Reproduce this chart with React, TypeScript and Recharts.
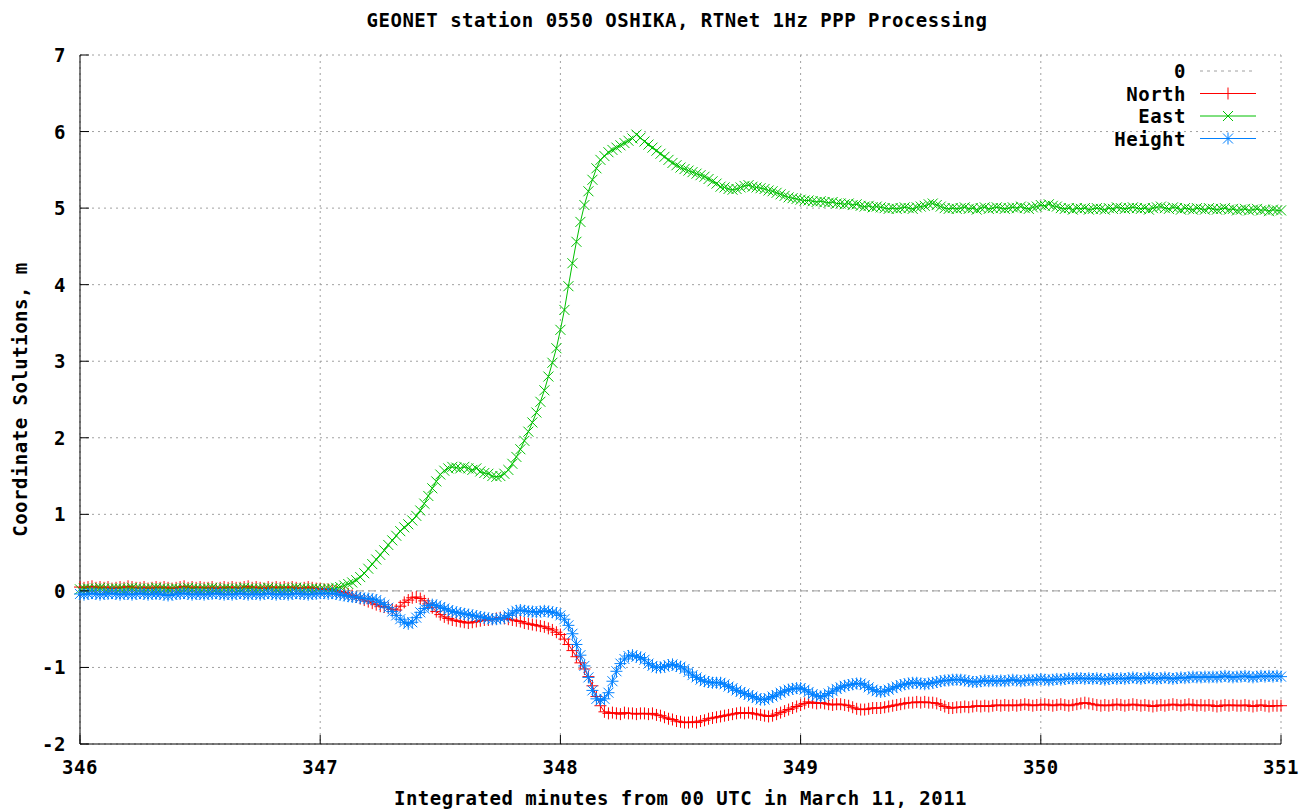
import { CartesianGrid, Legend, Line, LineChart, ReferenceLine, XAxis, YAxis } from "recharts";

// 1 Hz PPP solutions, metres, starting at 346:00 (minutes from 00 UTC)
const startMinute = 346;
const samplesPerMinute = 60;

const north = [
  0.05, 0.04, 0.05, 0.06, 0.04, 0.05, 0.04, 0.05, 0.03, 0.04,
  0.05, 0.04, 0.06, 0.05, 0.04, 0.04, 0.05, 0.03, 0.04, 0.05,
  0.04, 0.05, 0.04, 0.03, 0.04, 0.05, 0.06, 0.04, 0.05, 0.04,
  0.05, 0.04, 0.04, 0.05, 0.03, 0.04, 0.05, 0.04, 0.05, 0.04,
  0.04, 0.05, 0.06, 0.04, 0.05, 0.04, 0.03, 0.05, 0.04, 0.05,
  0.04, 0.05, 0.04, 0.05, 0.04, 0.03, 0.04, 0.05, 0.04, 0.03,
  0.03, 0.02, 0.02, 0.01, 0.0, -0.01, -0.02, -0.04, -0.06, -0.08,
  -0.1, -0.12, -0.14, -0.16, -0.18, -0.2, -0.21, -0.22, -0.24, -0.25,
  -0.2, -0.15, -0.12, -0.09, -0.08, -0.1, -0.13, -0.17, -0.22, -0.27,
  -0.31, -0.34, -0.36, -0.38, -0.39, -0.4, -0.41, -0.42, -0.41, -0.4,
  -0.39, -0.38, -0.38, -0.37, -0.36, -0.35, -0.36, -0.37, -0.38, -0.39,
  -0.4, -0.42, -0.43, -0.44, -0.45, -0.46, -0.47, -0.49, -0.51, -0.54,
  -0.57, -0.63, -0.7, -0.78, -0.86, -0.94, -1.02, -1.12, -1.24, -1.38,
  -1.5, -1.58, -1.6, -1.59, -1.6, -1.61, -1.59, -1.6, -1.6, -1.61,
  -1.6, -1.6, -1.61, -1.6, -1.62, -1.63, -1.65, -1.67, -1.68, -1.7,
  -1.71, -1.72, -1.72, -1.71, -1.72, -1.7, -1.69, -1.67, -1.66, -1.65,
  -1.64, -1.63, -1.62, -1.61, -1.6, -1.59, -1.6, -1.59, -1.6, -1.61,
  -1.62, -1.63, -1.64, -1.63, -1.61, -1.59, -1.57, -1.55, -1.53, -1.51,
  -1.49, -1.47, -1.45, -1.46, -1.47, -1.46, -1.47, -1.48, -1.49, -1.48,
  -1.48, -1.49, -1.5, -1.52, -1.54, -1.55, -1.55, -1.54, -1.53, -1.53,
  -1.53, -1.52, -1.51, -1.5, -1.49, -1.48, -1.47, -1.46, -1.46, -1.45,
  -1.46, -1.45, -1.46, -1.46, -1.47, -1.49, -1.51, -1.53, -1.53, -1.52,
  -1.52, -1.51, -1.52, -1.51, -1.5, -1.51, -1.5, -1.51, -1.5, -1.49,
  -1.5, -1.49, -1.5, -1.49, -1.5, -1.49, -1.48, -1.49, -1.5, -1.49,
  -1.49, -1.48, -1.49, -1.5, -1.49, -1.48, -1.49, -1.5, -1.49, -1.48,
  -1.47, -1.46, -1.47, -1.48, -1.49, -1.5, -1.49, -1.5, -1.49, -1.48,
  -1.49, -1.5, -1.49, -1.48, -1.49, -1.5, -1.49, -1.5, -1.51, -1.5,
  -1.49, -1.5, -1.49, -1.48, -1.49, -1.5, -1.49, -1.48, -1.49, -1.5,
  -1.49, -1.5, -1.49, -1.5, -1.51, -1.5, -1.49, -1.5, -1.49, -1.5,
  -1.5, -1.49, -1.5, -1.51, -1.5, -1.49, -1.5, -1.51, -1.5, -1.5,
  -1.5,
];

const east = [
  0.02, 0.03, 0.03, 0.02, 0.03, 0.04, 0.03, 0.02, 0.03, 0.03,
  0.03, 0.02, 0.03, 0.04, 0.03, 0.03, 0.02, 0.03, 0.03, 0.04,
  0.03, 0.03, 0.02, 0.03, 0.03, 0.02, 0.03, 0.04, 0.03, 0.03,
  0.02, 0.03, 0.03, 0.04, 0.03, 0.02, 0.03, 0.03, 0.02, 0.03,
  0.03, 0.04, 0.03, 0.03, 0.02, 0.03, 0.03, 0.04, 0.03, 0.02,
  0.03, 0.03, 0.02, 0.03, 0.04, 0.03, 0.03, 0.02, 0.03, 0.03,
  0.02, 0.02, 0.03, 0.03, 0.04, 0.05, 0.07, 0.09, 0.11, 0.14,
  0.18, 0.23, 0.29, 0.35, 0.41, 0.47, 0.53, 0.6, 0.66, 0.72,
  0.78, 0.83, 0.87, 0.92, 0.98, 1.05, 1.14, 1.24, 1.34, 1.43,
  1.52, 1.57, 1.6, 1.62, 1.61, 1.6, 1.62, 1.6, 1.58, 1.6,
  1.56, 1.54, 1.53, 1.5, 1.49, 1.5, 1.53, 1.58, 1.66, 1.75,
  1.85, 1.96, 2.08, 2.2, 2.33, 2.47, 2.62, 2.8, 2.98, 3.17,
  3.41, 3.67, 3.98, 4.28, 4.56, 4.82, 5.04, 5.22, 5.37, 5.52,
  5.63, 5.68, 5.73, 5.76, 5.79, 5.82, 5.85, 5.88, 5.91, 5.96,
  5.92, 5.87, 5.83, 5.79, 5.75, 5.71, 5.67, 5.63, 5.59, 5.56,
  5.53, 5.51, 5.49, 5.47, 5.45, 5.43, 5.41, 5.38, 5.35, 5.32,
  5.28, 5.27, 5.25, 5.24, 5.25, 5.27, 5.29, 5.3, 5.28, 5.27,
  5.26, 5.25, 5.23, 5.22, 5.2, 5.18, 5.16, 5.14, 5.13, 5.12,
  5.11, 5.1, 5.1, 5.09, 5.08, 5.09, 5.08, 5.07, 5.08, 5.06,
  5.06, 5.05, 5.06, 5.04, 5.05, 5.03, 5.02, 5.03, 5.01, 5.02,
  5.01, 5.0, 4.99, 5.0, 4.99, 5.0, 5.01, 5.0, 4.99, 5.01,
  5.02, 5.03, 5.05, 5.06, 5.04, 5.02, 5.0, 4.99, 5.0, 4.99,
  5.0, 5.01, 4.99, 5.0, 4.98, 5.0, 5.01, 4.99, 5.0, 5.01,
  5.0, 4.99, 5.0, 5.01, 5.0, 5.02, 5.0, 4.99, 5.01, 5.02,
  5.04, 5.03, 5.05, 5.03, 5.02, 5.0, 4.99, 5.0, 4.98, 5.0,
  4.99, 5.0, 4.98, 4.99, 5.0, 4.99, 4.98, 5.0, 4.99, 5.01,
  5.0, 4.99, 5.0, 5.01, 5.0, 4.99, 5.0, 4.98, 5.0, 5.01,
  5.02, 5.0, 4.99, 5.01, 5.0, 4.98, 5.0, 4.99, 4.98, 5.0,
  4.99, 4.98, 5.0, 4.99, 4.98, 4.99, 5.0, 4.98, 4.99, 4.97,
  4.98, 4.99, 4.97, 4.98, 4.99, 4.97, 4.98, 4.96, 4.98, 4.97,
  4.97,
];

const height = [
  -0.04, -0.05, -0.04, -0.03, -0.04, -0.05, -0.04, -0.04, -0.03, -0.04,
  -0.05, -0.04, -0.04, -0.05, -0.04, -0.03, -0.04, -0.05, -0.04, -0.04,
  -0.04, -0.05, -0.06, -0.05, -0.04, -0.04, -0.03, -0.04, -0.05, -0.04,
  -0.04, -0.05, -0.04, -0.04, -0.03, -0.04, -0.05, -0.04, -0.05, -0.04,
  -0.03, -0.04, -0.05, -0.04, -0.04, -0.05, -0.04, -0.03, -0.04, -0.05,
  -0.04, -0.04, -0.05, -0.04, -0.03, -0.04, -0.04, -0.05, -0.04, -0.04,
  -0.03, -0.03, -0.04, -0.03, -0.04, -0.05, -0.06, -0.07, -0.08, -0.08,
  -0.09, -0.1, -0.1, -0.11, -0.12, -0.15, -0.18, -0.22, -0.27, -0.32,
  -0.37, -0.41, -0.43, -0.41, -0.35, -0.28, -0.23, -0.19, -0.18, -0.19,
  -0.21, -0.23, -0.25, -0.27, -0.28, -0.29, -0.3, -0.31, -0.32, -0.33,
  -0.34, -0.35, -0.36, -0.37, -0.37, -0.36, -0.35, -0.32, -0.29, -0.26,
  -0.25, -0.26, -0.27, -0.27, -0.28, -0.27, -0.26, -0.27, -0.28, -0.29,
  -0.32, -0.37, -0.45, -0.56, -0.7, -0.84, -0.98, -1.13, -1.3, -1.41,
  -1.43, -1.41, -1.33, -1.18, -1.05, -0.95, -0.89, -0.85, -0.84, -0.86,
  -0.87, -0.9, -0.95, -0.98, -1.0, -1.0, -0.99, -0.97, -0.96, -0.98,
  -0.99, -1.02, -1.06, -1.1, -1.13, -1.16, -1.18, -1.19, -1.2, -1.2,
  -1.2, -1.22, -1.25, -1.27, -1.3, -1.32, -1.34, -1.36, -1.38, -1.4,
  -1.42, -1.42, -1.4, -1.38, -1.36, -1.33, -1.31, -1.29, -1.28, -1.27,
  -1.27, -1.29, -1.32, -1.35, -1.37, -1.38, -1.37, -1.34, -1.31, -1.28,
  -1.26, -1.24, -1.23, -1.22, -1.21, -1.21, -1.23, -1.26, -1.29, -1.31,
  -1.32, -1.31, -1.29, -1.27, -1.25, -1.23, -1.22, -1.21, -1.2, -1.2,
  -1.21, -1.22, -1.21, -1.2, -1.19, -1.18, -1.17, -1.17, -1.16, -1.16,
  -1.16, -1.17, -1.18, -1.19, -1.19, -1.18, -1.17, -1.18, -1.17, -1.18,
  -1.17, -1.18, -1.17, -1.16, -1.17, -1.18, -1.17, -1.16, -1.17, -1.16,
  -1.15, -1.16, -1.17, -1.16, -1.15, -1.16, -1.15, -1.14, -1.15, -1.14,
  -1.14, -1.15, -1.14, -1.15, -1.14, -1.15, -1.16, -1.15, -1.14, -1.15,
  -1.14, -1.15, -1.14, -1.13, -1.14, -1.15, -1.14, -1.13, -1.14, -1.15,
  -1.14, -1.13, -1.14, -1.15, -1.14, -1.13, -1.14, -1.13, -1.12, -1.13,
  -1.13, -1.12, -1.13, -1.12, -1.13, -1.12, -1.11, -1.12, -1.13, -1.12,
  -1.12, -1.11, -1.12, -1.13, -1.12, -1.11, -1.12, -1.11, -1.12, -1.11,
  -1.12,
];

const xTicks = [346, 347, 348, 349, 350, 351];
const yTicks = [-2, -1, 0, 1, 2, 3, 4, 5, 6, 7];

const title = "GEONET station 0550 OSHIKA, RTNet 1Hz PPP Processing";
const xLabel = "Integrated minutes from 00 UTC in March 11, 2011";
const yLabel = "Coordinate Solutions, m";

const RED = "#ff0000";
const GREEN = "#00c000";
const BLUE = "#0080ff";
const GRID = "#a0a0a0";

const legendItems = [
  { label: "0", color: GRID, mark: "none" },
  { label: "North", color: RED, mark: "plus" },
  { label: "East", color: GREEN, mark: "cross" },
  { label: "Height", color: BLUE, mark: "star" },
];

const rows = north.map((n, i) => ({
  t: startMinute + i / samplesPerMinute,
  north: n,
  east: east[i],
  height: height[i],
}));

const font = {
  fontFamily: '"DejaVu Sans Mono", monospace',
  fontWeight: 700,
  fontSize: 19,
  letterSpacing: 0.5,
  fill: "#000",
};

function Mark({ cx, cy, color, kind }: { cx: number; cy: number; color: string; kind: string }) {
  const p = 6;
  const c = 5;
  return (
    <g stroke={color} strokeWidth={1} fill="none">
      {(kind === "plus" || kind === "star") && (
        <>
          <line x1={cx - p} y1={cy} x2={cx + p} y2={cy} />
          <line x1={cx} y1={cy - p} x2={cx} y2={cy + p} />
        </>
      )}
      {(kind === "cross" || kind === "star") && (
        <>
          <line x1={cx - c} y1={cy - c} x2={cx + c} y2={cy + c} />
          <line x1={cx - c} y1={cy + c} x2={cx + c} y2={cy - c} />
        </>
      )}
    </g>
  );
}

const dotFor = (color: string, kind: string) => (props: any) => (
  <Mark key={`${kind}-${props.index}`} cx={props.cx} cy={props.cy} color={color} kind={kind} />
);

function BottomTick({ x, y, payload }: any) {
  return (
    <g>
      <line x1={x} y1={y} x2={x} y2={y - 9} stroke="#000" />
      <text x={x} y={y + 30} textAnchor="middle" style={font}>
        {payload.value}
      </text>
    </g>
  );
}

function TopTick({ x, y }: any) {
  return <line x1={x} y1={y} x2={x} y2={y + 9} stroke="#000" />;
}

function LeftTick({ x, y, payload }: any) {
  return (
    <g>
      <line x1={x} y1={y} x2={x + 9} y2={y} stroke="#000" />
      <text x={x - 14} y={y} textAnchor="end" dominantBaseline="central" style={font}>
        {payload.value}
      </text>
    </g>
  );
}

function RightTick({ x, y }: any) {
  return <line x1={x} y1={y} x2={x - 9} y2={y} stroke="#000" />;
}

function KeyBox() {
  return (
    <svg width={200} height={100} style={{ display: "block" }}>
      {legendItems.map((it, i) => {
        const cy = 10 + i * 22.5;
        return (
          <g key={it.label}>
            <text x={128} y={cy} textAnchor="end" dominantBaseline="central" style={font}>
              {it.label}
            </text>
            <line
              x1={142}
              y1={cy}
              x2={198}
              y2={cy}
              stroke={it.color}
              strokeDasharray={it.mark === "none" ? "3 4" : undefined}
            />
            {it.mark !== "none" && <Mark cx={170} cy={cy} color={it.color} kind={it.mark} />}
          </g>
        );
      })}
    </svg>
  );
}

export default function App() {
  return (
    <div style={{ position: "absolute", left: 0, top: 0, width: 1303, height: 809, background: "#fff" }}>
      <div
        style={{
          position: "absolute",
          left: 0,
          top: 8,
          width: 1354,
          textAlign: "center",
          fontFamily: font.fontFamily,
          fontWeight: 700,
          fontSize: 19,
          letterSpacing: 0.5,
          lineHeight: "24px",
          whiteSpace: "nowrap",
        }}
      >
        {title}
      </div>
      <LineChart width={1303} height={809} data={rows} margin={{ top: 55, right: 22, bottom: 0, left: 0 }}>
        <CartesianGrid stroke={GRID} strokeDasharray="2 4" />
        <XAxis
          dataKey="t"
          type="number"
          domain={[346, 351]}
          ticks={xTicks}
          height={65}
          tickSize={0}
          tickMargin={0}
          tickLine={false}
          stroke="#000"
          tick={<BottomTick />}
          label={{
            content: ({ viewBox }: any) => (
              <text
                x={viewBox.x + viewBox.width / 2}
                y={viewBox.y + 54}
                textAnchor="middle"
                dominantBaseline="central"
                style={font}
              >
                {xLabel}
              </text>
            ),
          }}
        />
        <XAxis
          xAxisId="top"
          orientation="top"
          type="number"
          domain={[346, 351]}
          ticks={xTicks}
          height={0}
          tickSize={0}
          tickMargin={0}
          tickLine={false}
          stroke="#000"
          tick={<TopTick />}
        />
        <YAxis
          type="number"
          domain={[-2, 7]}
          ticks={yTicks}
          width={80}
          tickSize={0}
          tickMargin={0}
          tickLine={false}
          stroke="#000"
          tick={<LeftTick />}
          label={{
            content: ({ viewBox }: any) => (
              <text
                x={20}
                y={viewBox.y + viewBox.height / 2}
                textAnchor="middle"
                dominantBaseline="central"
                transform={`rotate(-90 20 ${viewBox.y + viewBox.height / 2})`}
                style={font}
              >
                {yLabel}
              </text>
            ),
          }}
        />
        <YAxis
          yAxisId="right"
          orientation="right"
          type="number"
          domain={[-2, 7]}
          ticks={yTicks}
          width={0}
          tickSize={0}
          tickMargin={0}
          tickLine={false}
          stroke="#000"
          tick={<RightTick />}
        />
        <ReferenceLine y={0} stroke={GRID} strokeDasharray="8 4" />
        <Legend
          layout="vertical"
          align="center"
          verticalAlign="middle"
          wrapperStyle={{ top: 61, left: 1058, width: 200 }}
          content={() => <KeyBox />}
        />
        <Line
          dataKey="north"
          stroke={RED}
          strokeWidth={1}
          dot={dotFor(RED, "plus")}
          activeDot={false}
          isAnimationActive={false}
        />
        <Line
          dataKey="east"
          stroke={GREEN}
          strokeWidth={1}
          dot={dotFor(GREEN, "cross")}
          activeDot={false}
          isAnimationActive={false}
        />
        <Line
          dataKey="height"
          stroke={BLUE}
          strokeWidth={1}
          dot={dotFor(BLUE, "star")}
          activeDot={false}
          isAnimationActive={false}
        />
      </LineChart>
    </div>
  );
}
